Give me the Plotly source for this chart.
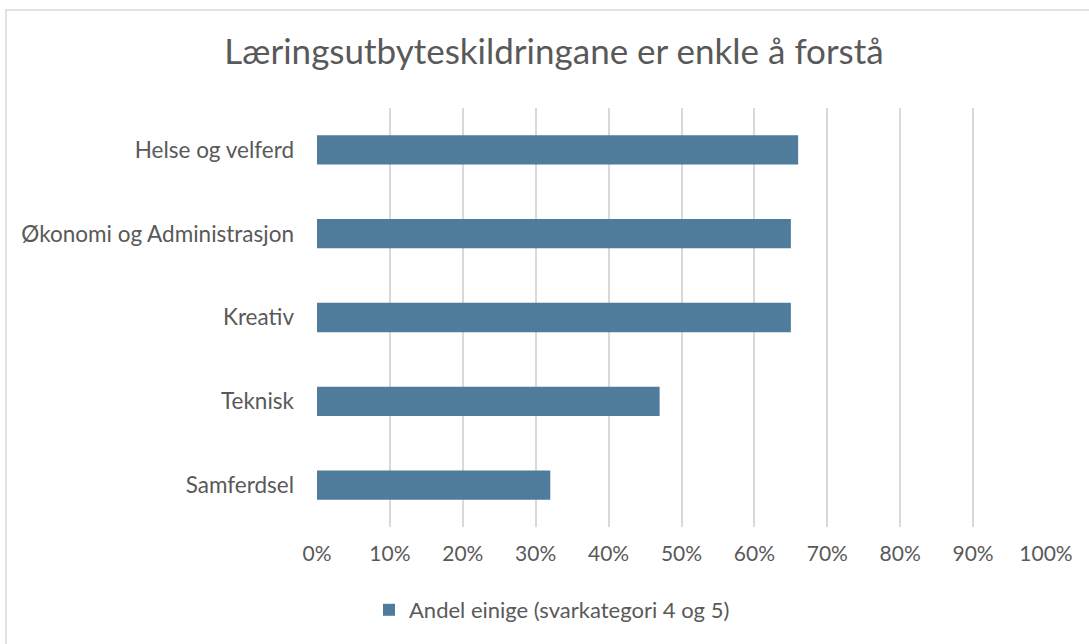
import plotly.graph_objects as go

categories = ["Helse og velferd", "Økonomi og Administrasjon", "Kreativ", "Teknisk", "Samferdsel"]
values = [0.66, 0.65, 0.65, 0.47, 0.32]
series_name = "Andel einige (svarkategori 4 og 5)"
title_text = "Læringsutbyteskildringane er enkle å forstå"
x_ticks = [0, 0.1, 0.2, 0.3, 0.4, 0.5, 0.6, 0.7, 0.8, 0.9, 1.0]
x_tick_labels = ["0%", "10%", "20%", "30%", "40%", "50%", "60%", "70%", "80%", "90%", "100%"]

FONT = "Lato, 'Open Sans', sans-serif"
GREY = "#595959"

fig = go.Figure()
fig.add_trace(go.Bar(
    y=categories, x=values, orientation="h", name=series_name,
    marker=dict(color="#4e7c9a", line=dict(width=0)),
    showlegend=True,
))

W, H = 1089, 644
L, R, T, B = 317, 43, 108, 117
pw, ph = W - L - R, H - T - B

def px_x(p):
    return (p - L) / pw

def px_y(p):
    return (H - B - p) / ph

fig.update_layout(
    width=W, height=H,
    margin=dict(l=L, r=R, t=T, b=B),
    paper_bgcolor="white", plot_bgcolor="white",
    font=dict(family=FONT, size=21, color=GREY),
    bargap=0.65,
    title=dict(text=title_text, x=554 / W, xanchor="center", y=1 - 52 / H, yanchor="middle",
               font=dict(size=35, color=GREY, family=FONT)),
    legend=dict(orientation="h", x=px_x(552), xanchor="center", y=px_y(610), yanchor="middle",
                font=dict(size=22, color=GREY), itemwidth=30),
    xaxis=dict(range=[0, 1.0], tickvals=x_ticks, ticktext=x_tick_labels,
               showgrid=True, gridcolor="#d9d9d9", gridwidth=1.5, zeroline=False,
               showline=False, ticks="", ticklabelstandoff=12, fixedrange=True,
               tickfont=dict(size=21)),
    yaxis=dict(autorange="reversed", showgrid=False, zeroline=False, showline=False,
               ticks="", ticklabelstandoff=22, fixedrange=True, tickfont=dict(size=22.5)),
    shapes=[dict(type="rect", xref="paper", yref="paper",
                 x0=px_x(6), x1=px_x(1100), y0=px_y(660), y1=px_y(10),
                 line=dict(color="#d9d9d9", width=1.5), fillcolor="rgba(0,0,0,0)", layer="below")],
)

fig.write_html("out.html", config={"displayModeBar": False},
               post_script="document.body.style.margin='0';document.body.style.overflow='hidden';")
